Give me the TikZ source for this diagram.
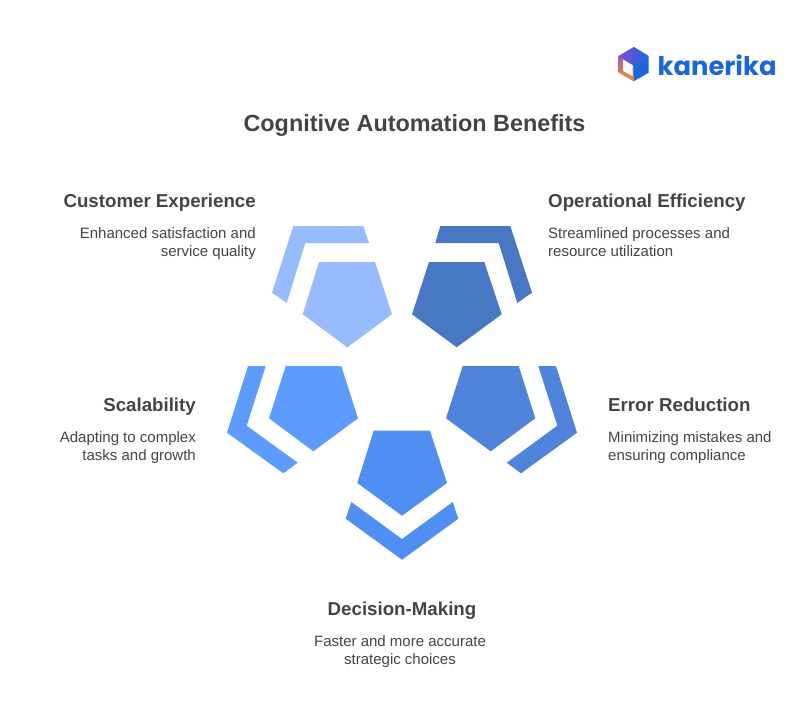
\documentclass[tikz,border=0pt]{standalone}
\usepackage{fontspec}
\setmainfont{Liberation Sans}
\newfontfamily\logofont{Poppins}
\usepackage{xcolor}
\usepackage{tikz}
\definecolor{txtgray}{HTML}{444444}
\definecolor{cxblue}{HTML}{96BCFF}
\definecolor{opblue}{HTML}{4878C4}
\definecolor{scblue}{HTML}{5C9BFF}
\definecolor{erblue}{HTML}{5084DC}
\definecolor{dmblue}{HTML}{4F8EF3}
\definecolor{logoblue}{HTML}{1B66DA}
\definecolor{logopurple}{HTML}{7A4FD6}
\definecolor{logopink}{HTML}{E8457A}
\definecolor{logoorange}{HTML}{FF8A2A}
\tikzset{
    headtxt/.style={text=txtgray, font=\fontsize{18.7}{22}\selectfont\bfseries, inner sep=0pt},
    bodytxt/.style={text=txtgray, font=\fontsize{15}{18}\selectfont, inner sep=0pt},
    titletxt/.style={text=txtgray, font=\fontsize{23.4}{28}\selectfont\bfseries, inner sep=0pt},
}

\begin{document}
\begin{tikzpicture}[x=1pt, y=-1pt]
            \useasboundingbox (0, 0) rectangle (810, 718);

            \node[titletxt] (title) at (414.5, 125) {Cognitive Automation Benefits};

            % customer experience
            \fill[cxblue] (319, 262) -- (375, 262) -- (392, 314.3) -- (347.3, 347.3) -- (302.7, 314.3) -- cycle;
            \fill[cxblue] (293.3, 226) -- (363.3, 226) -- (369, 243) -- (305.3, 243) -- (286.7, 303) -- (272, 292.7) -- cycle;
            % operational efficiency
            \fill[opblue] (429, 262) -- (484.3, 262) -- (501.7, 314.3) -- (456.7, 347.3) -- (412, 314.3) -- cycle;
            \fill[opblue] (440.3, 226) -- (510.3, 226) -- (532, 292.7) -- (517.3, 303) -- (498.7, 243) -- (435.3, 243) -- cycle;
            % scalability
            \fill[scblue] (285.7, 366) -- (341.3, 366) -- (358, 418.3) -- (313.3, 451.3) -- (269, 418.3) -- cycle;
            \fill[scblue] (248, 366) -- (265.7, 366) -- (246.7, 425.7) -- (297.7, 462.7) -- (283.3, 473.3) -- (227, 432.7) -- cycle;
            % error reduction
            \fill[erblue] (462.7, 366) -- (518.7, 366) -- (535.3, 418.3) -- (490.7, 451.3) -- (446, 418.3) -- cycle;
            \fill[erblue] (538.3, 366) -- (556, 366) -- (577, 432.7) -- (521, 473.3) -- (506.7, 462.7) -- (557.3, 425.7) -- cycle;
            % decision making
            \fill[dmblue] (373.7, 430.7) -- (430, 430.7) -- (447, 483) -- (402, 515.7) -- (357.3, 483) -- cycle;
            \fill[dmblue] (351.3, 502) -- (402, 539) -- (452.7, 502) -- (458.3, 518.7) -- (402, 559.7) -- (345.7, 518.7) -- cycle;

            \node[headtxt, anchor=base east] (cxhead) at (256, 207) {Customer Experience};
            \node[bodytxt, anchor=north east, align=right] (cxbody) at (256, 227.5) {Enhanced satisfaction and\\service quality};
            \node[headtxt, anchor=base west] (ophead) at (548, 207) {Operational Efficiency};
            \node[bodytxt, anchor=north west, align=left] (opbody) at (548, 227.5) {Streamlined processes and\\resource utilization};
            \node[headtxt, anchor=base east] (schead) at (196, 411) {Scalability};
            \node[bodytxt, anchor=north east, align=right] (scbody) at (196, 431.5) {Adapting to complex\\tasks and growth};
            \node[headtxt, anchor=base west] (erhead) at (608, 411) {Error Reduction};
            \node[bodytxt, anchor=north west, align=left] (erbody) at (608, 431.5) {Minimizing mistakes and\\ensuring compliance};
            \node[headtxt, anchor=base] (dmhead) at (402, 615) {Decision-Making};
            \node[bodytxt, anchor=north, align=center] (dmbody) at (400, 635.5) {Faster and more accurate\\strategic choices};

            % logo
            \shade[top color=logopurple, middle color=logopink, bottom color=logoorange] (634, 47) -- (618.7, 56) -- (618.7, 72.7) -- (633.7, 81.3) -- cycle;
            \fill[white] (623, 59.7) -- (632.7, 65.3) -- (632.7, 76.3) -- (623, 71) -- cycle;
            \shade[left color=logopurple, right color=logoblue] (634, 47) -- (648.7, 56) -- (633.7, 65.3) -- (618.7, 56) -- cycle;
            \fill[logoblue] (648.7, 56) -- (648.7, 72.7) -- (633.7, 81.3) -- (633.7, 65.3) -- cycle;
            \node[text=logoblue, font=\fontsize{25.8}{30}\selectfont\logofont\bfseries, anchor=west, inner sep=0pt] (logotxt) at (657.5, 65) {kanerika};
        \end{tikzpicture}
\end{document}
